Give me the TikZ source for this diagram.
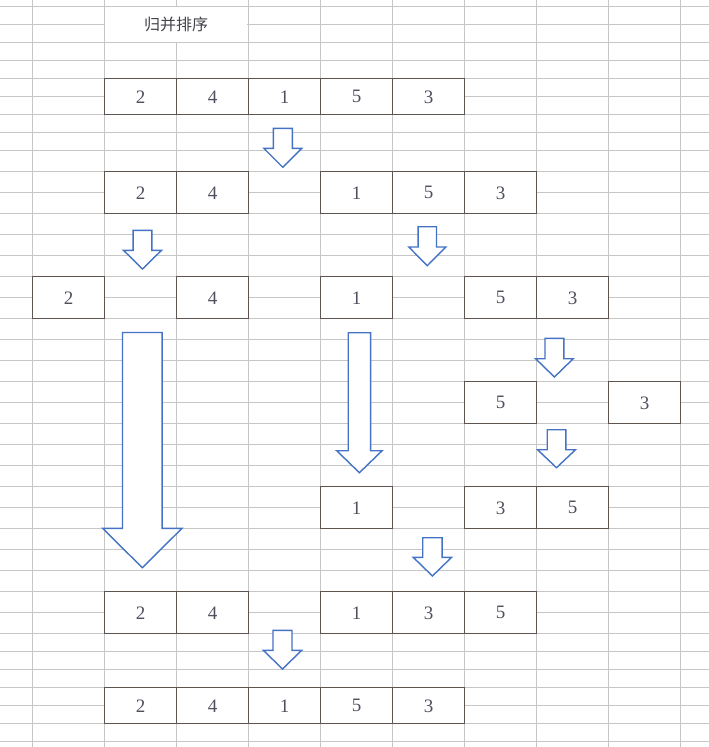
\documentclass[tikz,border=0pt]{standalone}
\usepackage{fontspec}
\setmainfont{Liberation Serif}
\newfontfamily\cjk{Noto Sans CJK SC}
\definecolor{gridgray}{HTML}{C6C6C6}
\definecolor{boxgray}{HTML}{5E5450}
\definecolor{numgray}{HTML}{50505E}
\definecolor{titlegray}{HTML}{44444C}
\definecolor{arrowblue}{HTML}{4472C4}
\newcommand{\blockarr}[6]{%
  \draw[blockarrow] ({#1-#2},#3) -- ({#1+#2},#3) -- ({#1+#2},#4) -- ({#1+#5},#4)
    -- (#1,#6) -- ({#1-#5},#4) -- ({#1-#2},#4) -- cycle;}
\begin{document}
\begin{tikzpicture}[x=1pt,y=-1pt,
  gridline/.style={draw=gridgray, line width=1pt},
  cell/.style={draw=boxgray, line width=1.1pt, fill=white, minimum width=72pt,
    inner sep=0pt, text=numgray, font=\fontsize{19}{19}\selectfont, anchor=north west},
  tall/.style={cell, minimum height=42pt},
  short/.style={cell, minimum height=36pt},
  blockarrow/.style={draw=arrowblue, line width=1.4pt, fill=white, line join=miter}]
\useasboundingbox[fill=white] (0,0) rectangle (709,747);
% grid
\foreach \x in {32,104,176,248,320,392,464,536,608,680}
  \draw[gridline] (\x,0) -- (\x,747);
\foreach \k in {0,...,8}
  \draw[gridline] (0,{6.3+18*\k}) -- (709,{6.3+18*\k});
\foreach \k in {1,...,22}
  \draw[gridline] (0,{150.3+21*\k}) -- (709,{150.3+21*\k});
\foreach \k in {0,...,6}
  \draw[gridline] (0,{633.3+18*\k}) -- (709,{633.3+18*\k});
% title cell
\fill[white] (104.6,6.8) rectangle (247.4,41.8);
\node[text=titlegray, font=\cjk\fontsize{16}{16}\selectfont] (title) at (176,24.3) {归并排序};
% row A
\node[short] (a1) at (104,78.3) {2};
\node[short] (a2) at (176,78.3) {4};
\node[short] (a3) at (248,78.3) {1};
\node[short] (a4) at (320,78.3) {5};
\node[short] (a5) at (392,78.3) {3};
% row B
\node[tall] (b1) at (104,171.3) {2};
\node[tall] (b2) at (176,171.3) {4};
\node[tall] (b3) at (320,171.3) {1};
\node[tall] (b4) at (392,171.3) {5};
\node[tall] (b5) at (464,171.3) {3};
% row C
\node[tall] (c1) at (32,276.3) {2};
\node[tall] (c2) at (176,276.3) {4};
\node[tall] (c3) at (320,276.3) {1};
\node[tall] (c4) at (464,276.3) {5};
\node[tall] (c5) at (536,276.3) {3};
% row D
\node[tall] (d1) at (464,381.3) {5};
\node[tall] (d2) at (608,381.3) {3};
% row E
\node[tall] (e1) at (320,486.3) {1};
\node[tall] (e2) at (464,486.3) {3};
\node[tall] (e3) at (536,486.3) {5};
% row F
\node[tall] (f1) at (104,591.3) {2};
\node[tall] (f2) at (176,591.3) {4};
\node[tall] (f3) at (320,591.3) {1};
\node[tall] (f4) at (392,591.3) {3};
\node[tall] (f5) at (464,591.3) {5};
% row G
\node[short] (g1) at (104,687.3) {2};
\node[short] (g2) at (176,687.3) {4};
\node[short] (g3) at (248,687.3) {1};
\node[short] (g4) at (320,687.3) {5};
\node[short] (g5) at (392,687.3) {3};
% block arrows: centre x, shaft half width, top, head base, head half width, tip
\blockarr{282.8}{9.5}{128.3}{148.3}{19}{167.3}
\blockarr{142.5}{9.4}{230.3}{250.3}{19}{269}
\blockarr{427.3}{9.2}{226.7}{247}{18.5}{265.7}
\blockarr{142.3}{19.8}{332.5}{528.3}{39.7}{567.7}
\blockarr{359.4}{11.2}{332.7}{450.7}{22.7}{472.7}
\blockarr{554.4}{9.4}{338.3}{358.7}{18.8}{377}
\blockarr{556.5}{9.3}{429.7}{449.7}{19}{467.7}
\blockarr{432.4}{9.7}{537.7}{557.3}{19.2}{576}
\blockarr{282.5}{9.5}{630.3}{650.3}{19.2}{669}
\end{tikzpicture}
\end{document}
